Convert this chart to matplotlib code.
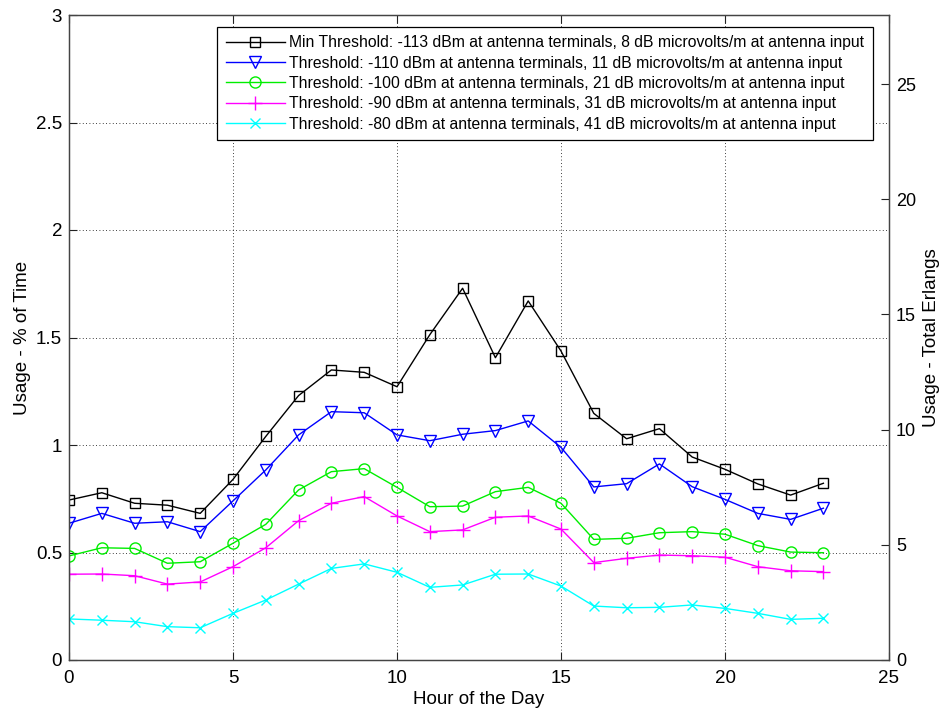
import matplotlib
matplotlib.use("Agg")
import matplotlib.pyplot as plt

plt.rcParams['font.family'] = ['Liberation Sans', 'DejaVu Sans']

hours = list(range(24))

min_113 = [0.744, 0.778, 0.729, 0.720, 0.682, 0.840, 1.040, 1.230, 1.349, 1.338,
           1.271, 1.513, 1.729, 1.406, 1.670, 1.437, 1.147, 1.029, 1.076, 0.944,
           0.887, 0.819, 0.767, 0.822]
thr_110 = [0.636, 0.682, 0.636, 0.643, 0.597, 0.740, 0.884, 1.047, 1.155, 1.150,
           1.047, 1.020, 1.050, 1.067, 1.112, 0.989, 0.805, 0.820, 0.912, 0.806,
           0.747, 0.682, 0.654, 0.706]
thr_100 = [0.484, 0.522, 0.519, 0.450, 0.457, 0.543, 0.631, 0.791, 0.876, 0.890,
           0.803, 0.713, 0.716, 0.783, 0.803, 0.729, 0.561, 0.566, 0.592, 0.597,
           0.585, 0.532, 0.502, 0.499]
thr_90 = [0.399, 0.400, 0.392, 0.353, 0.363, 0.434, 0.522, 0.648, 0.729, 0.760,
          0.670, 0.597, 0.605, 0.664, 0.670, 0.609, 0.453, 0.473, 0.488, 0.485,
          0.478, 0.434, 0.415, 0.411]
thr_80 = [0.191, 0.185, 0.178, 0.155, 0.150, 0.217, 0.279, 0.353, 0.426, 0.447,
          0.408, 0.338, 0.349, 0.399, 0.400, 0.344, 0.251, 0.243, 0.245, 0.256,
          0.240, 0.217, 0.189, 0.194]

labels = [
    "Min Threshold: -113 dBm at antenna terminals, 8 dB microvolts/m at antenna input",
    "Threshold: -110 dBm at antenna terminals, 11 dB microvolts/m at antenna input",
    "Threshold: -100 dBm at antenna terminals, 21 dB microvolts/m at antenna input",
    "Threshold: -90 dBm at antenna terminals, 31 dB microvolts/m at antenna input",
    "Threshold: -80 dBm at antenna terminals, 41 dB microvolts/m at antenna input",
]
series = [min_113, thr_110, thr_100, thr_90, thr_80]
colors = ['black', 'blue', '#00ee00', 'magenta', 'cyan']
markers = ['s', 'v', 'o', '+', 'x']
msizes = [7.5, 8, 8, 10, 7]

left_ticks = [0, 0.5, 1, 1.5, 2, 2.5, 3]
right_ticks = [0, 5, 10, 15, 20, 25]
x_ticks = [0, 5, 10, 15, 20, 25]

FS = 13.5

fig = plt.figure(figsize=(9.41, 7.15), dpi=100)
ax = fig.add_axes([69/941, 55/715, 820/941, 645/715])

for y, c, m, ms, lab in zip(series, colors, markers, msizes, labels):
    ax.plot(hours, y, color=c, marker=m, markersize=ms, markerfacecolor='none',
            markeredgecolor=c, markeredgewidth=1.0, linewidth=1.0, label=lab)

ax.set_xlim(0, 25)
ax.set_ylim(0, 3)
ax.set_xticks(x_ticks)
ax.set_yticks(left_ticks)
ax.set_yticklabels(['0', '0.5', '1', '1.5', '2', '2.5', '3'])
ax.grid(True, linestyle=(0, (1, 3)), color='black', linewidth=0.6)
ax.tick_params(direction='in', length=6, width=0.8, labelsize=FS, top=True,
               colors='#222222', labelcolor='black')
ax.tick_params(axis='x', pad=7)
ax.tick_params(axis='y', pad=5)
ax.set_xlabel('Hour of the Day', fontsize=FS, labelpad=3)
ax.set_ylabel('Usage - % of Time', fontsize=FS, labelpad=3.5)
for s in ax.spines.values():
    s.set_color('#444444')
    s.set_linewidth(0.9)

ax2 = ax.twinx()
ax2.set_ylim(0, 28)
ax2.set_yticks(right_ticks)
ax2.tick_params(direction='in', length=6, width=0.8, labelsize=FS - 0.5,
                colors='#222222', labelcolor='black', pad=5)
ax2.set_ylabel('Usage - Total Erlangs', fontsize=FS, labelpad=5)
for s in ax2.spines.values():
    s.set_color('#444444')
    s.set_linewidth(0.9)

leg = ax.legend(loc='upper right', bbox_to_anchor=(0.9805, 0.982), fontsize=11.3,
                frameon=True, fancybox=False, framealpha=1, edgecolor='black',
                handlelength=3.76, labelspacing=0.34, borderpad=0.55,
                handletextpad=0.3, borderaxespad=0)
leg.get_frame().set_linewidth(0.9)
leg.set_zorder(10)

fig.savefig('out.png', dpi=100)
